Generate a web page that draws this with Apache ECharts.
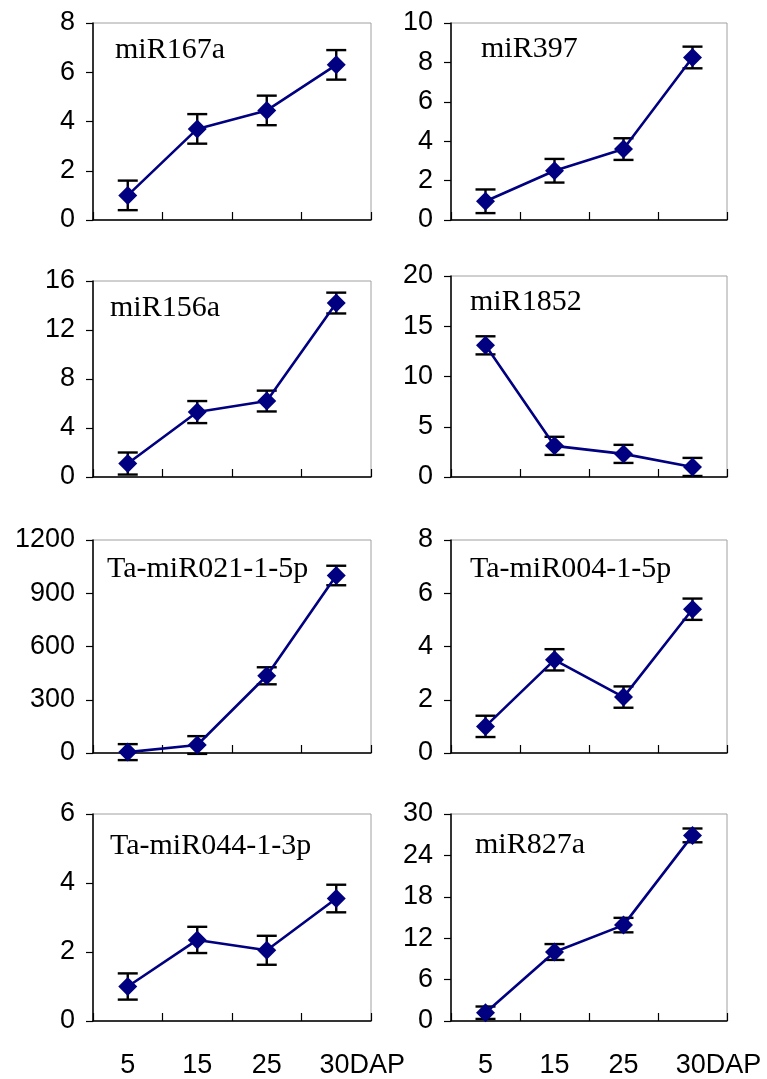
<!DOCTYPE html>
<html>
<head>
<meta charset="utf-8">
<title>miRNA expression</title>
<script src="https://cdn.jsdelivr.net/npm/echarts@6.0.0/dist/echarts.min.js"></script>
<style>
	html, body { margin: 0; padding: 0; background: #fff; }
	#main { width: 767px; height: 1079px; }
</style>
</head>
<body>
<div id="main"></div>
<script>
// x categories (days after pollination)
var days = ["5", "15", "25", "30DAP"];

// panel names
var names = ["miR167a", "miR397", "miR156a", "miR1852",
	"Ta-miR021-1-5p", "Ta-miR004-1-5p", "Ta-miR044-1-3p", "miR827a"];

// mean values
var miR167a = [1.0, 3.7, 4.45, 6.3];
var miR397 = [0.95, 2.5, 3.6, 8.25];
var miR156a = [1.1, 5.3, 6.2, 14.2];
var miR1852 = [13.1, 3.1, 2.3, 1.0];
var miR021 = [5, 45, 435, 1000];
var miR004 = [1.0, 3.5, 2.1, 5.4];
var miR044 = [1.0, 2.35, 2.05, 3.55];
var miR827a = [1.2, 10.0, 13.9, 26.9];

// error bar half lengths
var err167a = [0.6, 0.6, 0.6, 0.6];
var err397 = [0.6, 0.6, 0.55, 0.55];
var err156a = [0.9, 0.9, 0.85, 0.85];
var err1852 = [0.9, 0.9, 0.9, 0.9];
var err021 = [45, 50, 48, 55];
var err004 = [0.4, 0.4, 0.4, 0.4];
var err044 = [0.38, 0.38, 0.42, 0.4];
var err827a = [0.9, 1.15, 1.05, 1.0];

// y axis max / step
var yMax = [8, 10, 16, 20, 1200, 8, 6, 30];
var yStep = [2, 2, 4, 5, 300, 2, 2, 6];

var means = [miR167a, miR397, miR156a, miR1852, miR021, miR004, miR044, miR827a];
var errs = [err167a, err397, err156a, err1852, err021, err004, err044, err827a];

// layout of the 8 boxes (px)
var boxes = [
	{left: 93, top: 23, w: 278, h: 197},
	{left: 451, top: 23, w: 276, h: 197},
	{left: 93, top: 281, w: 278, h: 196},
	{left: 451, top: 276, w: 276, h: 201},
	{left: 93, top: 540, w: 278, h: 213},
	{left: 451, top: 540, w: 276, h: 213},
	{left: 93, top: 814, w: 278, h: 210},
	{left: 451, top: 814, w: 276, h: 210}
];
var titlePos = [[115, 35], [481, 34], [110, 293], [470, 287],
	[107, 554], [470, 554], [110, 831], [475, 830]];

var navy = "#000080";
var numFont = "Liberation Sans, Arial, Helvetica, sans-serif";
var serifFont = "Liberation Serif, Times New Roman, serif";

function errorBar(params, api) {
	var x = api.value(0), v = api.value(1), e = api.value(2);
	var hi = api.coord([x, v + e]);
	var lo = api.coord([x, v - e]);
	var hw = 10;
	var st = {stroke: "#000", lineWidth: 2.4};
	return {
		type: "group",
		children: [
			{type: "line", shape: {x1: hi[0], y1: hi[1], x2: lo[0], y2: lo[1]}, style: st},
			{type: "line", shape: {x1: hi[0] - hw, y1: hi[1], x2: hi[0] + hw, y2: hi[1]}, style: st},
			{type: "line", shape: {x1: lo[0] - hw, y1: lo[1], x2: lo[0] + hw, y2: lo[1]}, style: st}
		]
	};
}

var grids = [], xAxes = [], yAxes = [], series = [], titles = [];
for (var i = 0; i < 8; i++) {
	var b = boxes[i];
	var bottomRow = i >= 6;
	grids.push({
		left: b.left, top: b.top, width: b.w, height: b.h,
		show: true, borderColor: "#a0a0a0", borderWidth: 1, backgroundColor: "#fff"
	});
	var cats = days.map(function(d, k) {
		// last label: "30" sits over the point, "DAP" runs on to the right
		if (k == 3) return {value: d, textStyle: {padding: [0, 0, 0, 52]}};
		return d;
	});
	xAxes.push({
		type: "category", gridIndex: i, data: cats, boundaryGap: true,
		axisLine: {lineStyle: {color: "#000", width: 1.5}},
		axisTick: {show: true, inside: true, length: 8, lineStyle: {color: "#000", width: 1.2}},
		axisLabel: {show: bottomRow, interval: 0, margin: 31, color: "#000", fontSize: 27, fontFamily: numFont},
		splitLine: {show: false}
	});
	yAxes.push({
		type: "value", gridIndex: i, min: 0, max: yMax[i], interval: yStep[i],
		axisLine: {show: true, lineStyle: {color: "#000", width: 1.5}},
		axisTick: {show: true, length: 7, lineStyle: {color: "#000", width: 1.2}},
		axisLabel: {
			margin: 18, color: "#000", fontSize: 27, fontFamily: numFont,
			formatter: function(v) { return String(v); }
		},
		splitLine: {show: false}
	});
	titles.push({
		text: names[i], left: titlePos[i][0], top: titlePos[i][1], padding: 0,
		textStyle: {fontFamily: serifFont, fontWeight: "normal", fontSize: 30, color: "#000"}
	});
	var errData = [];
	for (var k = 0; k < days.length; k++) {
		errData.push([k, means[i][k], errs[i][k]]);
	}
	series.push({
		type: "custom", xAxisIndex: i, yAxisIndex: i, data: errData,
		renderItem: errorBar, clip: false, z: 2, silent: true,
		encode: {x: 0, y: 1}
	});
	series.push({
		type: "line", xAxisIndex: i, yAxisIndex: i, data: means[i],
		symbol: "diamond", symbolSize: 19, z: 3,
		lineStyle: {color: navy, width: 2.6},
		itemStyle: {color: navy},
		animation: false
	});
}

var myChart = echarts.init(document.getElementById("main"));
myChart.setOption({
	animation: false,
	backgroundColor: "#fff",
	title: titles,
	grid: grids,
	xAxis: xAxes,
	yAxis: yAxes,
	series: series
});
</script>
</body>
</html>
